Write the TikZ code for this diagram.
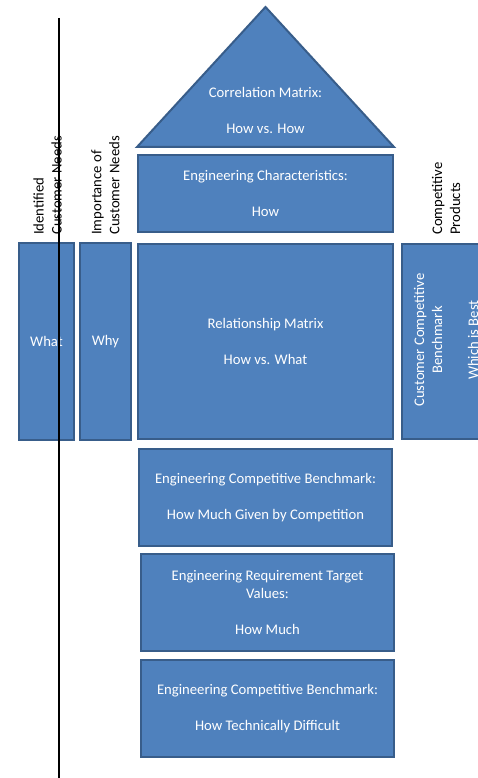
\documentclass[tikz,border=0pt]{standalone}
\usepackage{fontspec}
\setmainfont{Carlito}
\usetikzlibrary{shapes,backgrounds}
\definecolor{qfdblue}{HTML}{4F81BD}
\definecolor{qfdedge}{HTML}{385D8A}
\tikzset{
  qfdbox/.style={draw=qfdedge, fill=qfdblue, line width=2pt, text=white, align=center, inner sep=0pt},
  qfdtext/.style={text=white, align=center, inner sep=0pt},
  sidelabel/.style={rotate=90, align=left, anchor=west, inner sep=0pt}
}

\begin{document}
\begin{tikzpicture}[x=1pt, y=-1pt, font=\fontsize{14.67}{18}\selectfont]
      \clip (0,0) rectangle (478,778);
      \fill[white] (0,0) rectangle (478,778);
      % roof
      \draw[qfdbox] (137,147) -- (265.5,7) -- (394,147) -- cycle;
      \node[qfdtext] (corr) at (265.5,110) {Correlation Matrix:\\[18pt]How vs. How};
      \node[qfdbox, minimum width=255pt, minimum height=77pt] (engchar) at (265.5,193.5) {Engineering Characteristics:\\[18pt]How};
      % left columns
      \node[qfdbox, minimum width=55pt, minimum height=197pt] (what) at (46.5,341.5) {What};
      \node[qfdbox, minimum width=51pt, minimum height=197pt] (why) at (105.5,341.5) {Why};
      \node[qfdbox, minimum width=255pt, minimum height=195pt] (relmat) at (265.5,341.5) {Relationship Matrix\\[18pt]How vs. What};
      \node[qfdbox, minimum width=90pt, minimum height=195pt] (custbench) at (447,341.5) {};
      \node[qfdtext, rotate=90] (custtext) at (446,340) {Customer Competitive\\Benchmark\\[18pt]Which is Best};
      % bottom rooms
      \node[qfdbox, minimum width=253pt, minimum height=97pt] (engbench) at (265.5,497.5) {Engineering Competitive Benchmark:\\[18pt]How Much Given by Competition};
      \node[qfdbox, minimum width=253pt, minimum height=97pt] (engtarget) at (267.5,602.5) {Engineering Requirement Target\\Values:\\[18pt]How Much};
      \node[qfdbox, minimum width=253pt, minimum height=97pt] (engdiff) at (267.5,708.5) {Engineering Competitive Benchmark:\\[18pt]How Technically Difficult};
      % headings
      \node[sidelabel] (whatlabel) at (47.5,235) {Identified\\Customer Needs};
      \node[sidelabel] (whylabel) at (105.5,235) {Importance of\\Customer Needs};
      \node[sidelabel] (custlabel) at (446,235) {Competitive\\Products};
      \coordinate (linetop) at (58.5,18);
      \coordinate (linebot) at (58.5,778);
      \draw[line width=2pt] (linetop) -- (linebot);
\end{tikzpicture}
\end{document}
